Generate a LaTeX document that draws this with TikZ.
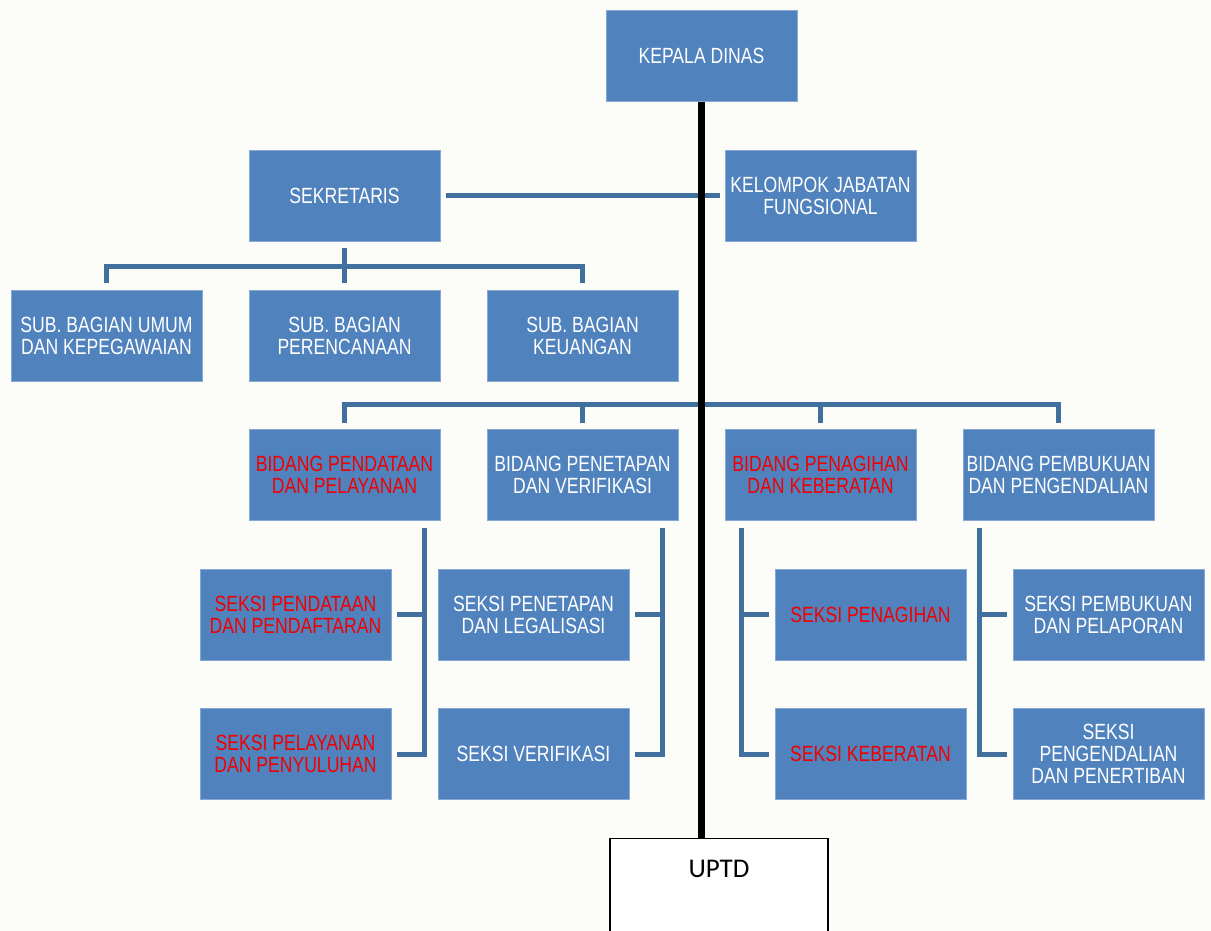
\documentclass[tikz,border=0pt]{standalone}
\usepackage{fontspec}
\setmainfont{Liberation Sans}[FakeStretch=0.8]
\newfontfamily\uptdfont{Carlito}
\usetikzlibrary{calc}
\definecolor{boxblue}{HTML}{5082BD}
\definecolor{boxedge}{HTML}{86A8D2}
\definecolor{linkblue}{HTML}{41709E}
\definecolor{txtred}{HTML}{F00000}
\definecolor{bgcol}{HTML}{FCFCF8}
\begin{document}
\begin{tikzpicture}[x=1pt,y=-1pt,
  unit/.style={rectangle, fill=boxblue, draw=boxedge, line width=0.6pt,
    minimum width=191pt, minimum height=91pt, inner sep=0pt, align=center,
    text=white, font=\fontsize{22}{22}\selectfont},
  redtxt/.style={text=txtred},
  link/.style={draw=linkblue, line width=5pt},
  trunk/.style={draw=black, line width=7pt}]
\useasboundingbox (0,0) rectangle (1211,931);
\fill[bgcol] (0,0) rectangle (1211,931);
\clip (0,0) rectangle (1211,931);

\node[unit] (kepala) at (701.5,56) {KEPALA DINAS};
\node[unit] (sek) at (344.5,195.5) {SEKRETARIS};
\node[unit] (kfung) at (820.5,195.5) {KELOMPOK JABATAN\\FUNGSIONAL};

\node[unit] (sub1) at (106.5,335.5) {SUB. BAGIAN UMUM\\DAN KEPEGAWAIAN};
\node[unit] (sub2) at (344.5,335.5) {SUB. BAGIAN\\PERENCANAAN};
\node[unit] (sub3) at (582.5,335.5) {SUB. BAGIAN\\KEUANGAN};

\node[unit,redtxt] (bid1) at (344.5,474.5) {BIDANG PENDATAAN\\DAN PELAYANAN};
\node[unit] (bid2) at (582.5,474.5) {BIDANG PENETAPAN\\DAN VERIFIKASI};
\node[unit,redtxt] (bid3) at (820.5,474.5) {BIDANG PENAGIHAN\\DAN KEBERATAN};
\node[unit] (bid4) at (1058.5,474.5) {BIDANG PEMBUKUAN\\DAN PENGENDALIAN};

\node[unit,redtxt] (s11) at (295.5,614.5) {SEKSI PENDATAAN\\DAN PENDAFTARAN};
\node[unit,redtxt] (s12) at (295.5,754) {SEKSI PELAYANAN\\DAN PENYULUHAN};
\node[unit] (s21) at (533.5,614.5) {SEKSI PENETAPAN\\DAN LEGALISASI};
\node[unit] (s22) at (533.5,754) {SEKSI VERIFIKASI};
\node[unit,redtxt] (s31) at (870.5,614.5) {SEKSI PENAGIHAN};
\node[unit,redtxt] (s32) at (870.5,754) {SEKSI KEBERATAN};
\node[unit] (s41) at (1108.5,614.5) {SEKSI PEMBUKUAN\\DAN PELAPORAN};
\node[unit] (s42) at (1108.5,754) {SEKSI\\PENGENDALIAN\\DAN PENERTIBAN};

\node[draw=black, fill=white, line width=1.2pt, minimum width=218pt, minimum height=122pt,
  anchor=north, inner sep=0pt] (uptd) at (719,838) {};
\node[font=\uptdfont\fontsize{27}{30}\selectfont, inner sep=0pt] (uptdtxt)
  at ($(uptd.north)+(0,31)$) {UPTD};

% secretary to functional group
\draw[link] ($(sek.east)+(6,0.5)$) -- ($(kfung.west)+(-5,0.5)$);

% secretary to sub sections
\coordinate (busA) at ($(sek.south)+(0,25)$);
\draw[link] ($(sek.south)+(0,7)$) -- ($(sub2.north)+(0,-7)$);
\draw[link] ($(sub1.north)+(0,-7)$) |- (busA) -| ($(sub3.north)+(0,-7)$);

% bidang bus
\coordinate (busB) at ($(kepala.south |- bid1.north)+(0,-24)$);
\draw[link] ($(bid1.north)+(0,-6)$) |- (busB) -| ($(bid4.north)+(0,-6)$);
\draw[link] (bid2.north |- busB) -- ($(bid2.north)+(0,-6)$);
\draw[link] (bid3.north |- busB) -- ($(bid3.north)+(0,-6)$);

% bidang to seksi
\coordinate (v1) at ($(bid1.south east)+(-16,8)$);
\draw[link] (v1) |- ($(s12.east)+(6,0)$);
\draw[link] ($(s11.east)+(6,0)$) -- (v1 |- s11.east);
\coordinate (v2) at ($(bid2.south east)+(-16,8)$);
\draw[link] (v2) |- ($(s22.east)+(6,0)$);
\draw[link] ($(s21.east)+(6,0)$) -- (v2 |- s21.east);
\coordinate (v3) at ($(bid3.south west)+(17,8)$);
\draw[link] (v3) |- ($(s32.west)+(-6,0)$);
\draw[link] ($(s31.west)+(-6,0)$) -- (v3 |- s31.west);
\coordinate (v4) at ($(bid4.south west)+(17,8)$);
\draw[link] (v4) |- ($(s42.west)+(-6,0)$);
\draw[link] ($(s41.west)+(-6,0)$) -- (v4 |- s41.west);

% trunk
\draw[trunk] (kepala.south) -- (kepala.south |- uptd.north);
\end{tikzpicture}
\end{document}
